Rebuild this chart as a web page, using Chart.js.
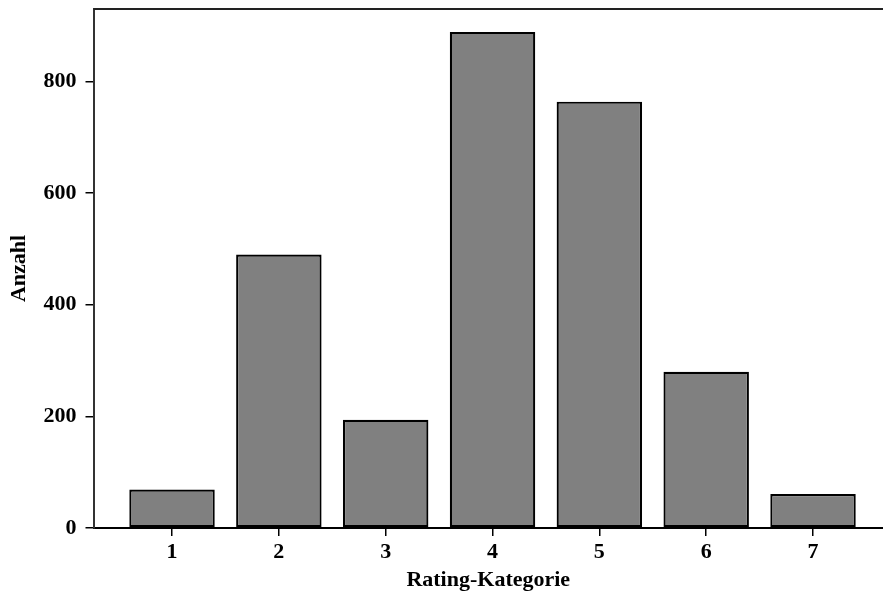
<!DOCTYPE html>
<html>
<head>
<meta charset="utf-8">
<script src="https://cdn.jsdelivr.net/npm/chart.js@4/dist/chart.umd.min.js"></script>
<style>
html,body{margin:0;padding:0;background:#fff;overflow:hidden;}
#c{display:block;}
</style>
</head>
<body>
<canvas id="c" width="883" height="596"></canvas>
<script>
const categories = [1, 2, 3, 4, 5, 6, 7];
const counts = [69, 490, 194, 889, 764, 280, 61];
const yTicks = [0, 200, 400, 600, 800];
const xTitle = 'Rating-Kategorie';
const yTitle = 'Anzahl';

const serif = "'Liberation Serif', 'Times New Roman', serif";
const tickFont = {family: serif, size: 22, weight: 'bold'};
const xTitleFont = {family: serif, size: 22, weight: 'bold'};
const yTitleFont = {family: serif, size: 22, weight: 'bold'};

const topLine = {
  id: 'topLine',
  afterDraw(chart) {
    const {ctx, chartArea} = chart;
    ctx.save();
    ctx.strokeStyle = '#222';
    ctx.lineWidth = 2;
    ctx.beginPath();
    ctx.moveTo(chartArea.left, chartArea.top);
    ctx.lineTo(chartArea.right, chartArea.top);
    ctx.stroke();
    ctx.restore();
  }
};

new Chart(document.getElementById('c'), {
  type: 'bar',
  data: {
    datasets: [{
      data: categories.map((c, i) => ({x: c, y: counts[i]})),
      backgroundColor: '#808080',
      borderColor: '#000',
      borderWidth: 2.2,
      borderSkipped: false,
      barPercentage: 1,
      categoryPercentage: 0.8
    }]
  },
  options: {
    responsive: false,
    animation: false,
    events: [],
    layout: {padding: {top: 9, right: 0, left: 0, bottom: 0}},
    plugins: {legend: {display: false}, tooltip: {enabled: false}},
    scales: {
      x: {
        type: 'linear',
        offset: false,
        min: 0.265,
        max: 7.655,
        afterBuildTicks(scale) { scale.ticks = categories.map(v => ({value: v})); },
        afterFit(scale) { scale.height = 68; scale.paddingLeft = 0; scale.paddingRight = 0; },
        grid: {display: true, drawOnChartArea: false, offset: false, tickLength: 8, color: '#000', lineWidth: 1.5},
        border: {display: true, color: '#000', width: 2},
        ticks: {font: tickFont, color: '#000', padding: 3, maxRotation: 0, autoSkip: false,
                callback: v => String(v)},
        title: {display: true, text: xTitle, font: xTitleFont, color: '#000', padding: {top: 0, bottom: 2}}
      },
      y: {
        min: 0,
        max: 930,
        afterBuildTicks(scale) { scale.ticks = yTicks.map(v => ({value: v})); },
        afterFit(scale) { scale.width = 93.5; scale.paddingTop = 0; scale.paddingBottom = 0; },
        grid: {display: true, drawOnChartArea: false, tickLength: 8, color: '#000', lineWidth: 1.5},
        border: {display: true, color: '#333', width: 2},
        ticks: {font: tickFont, color: '#000', padding: 9, callback: v => String(v)},
        title: {display: true, text: yTitle, font: yTitleFont, color: '#000', padding: {top: 6, bottom: 0}}
      }
    }
  },
  plugins: [topLine]
});
</script>
</body>
</html>
